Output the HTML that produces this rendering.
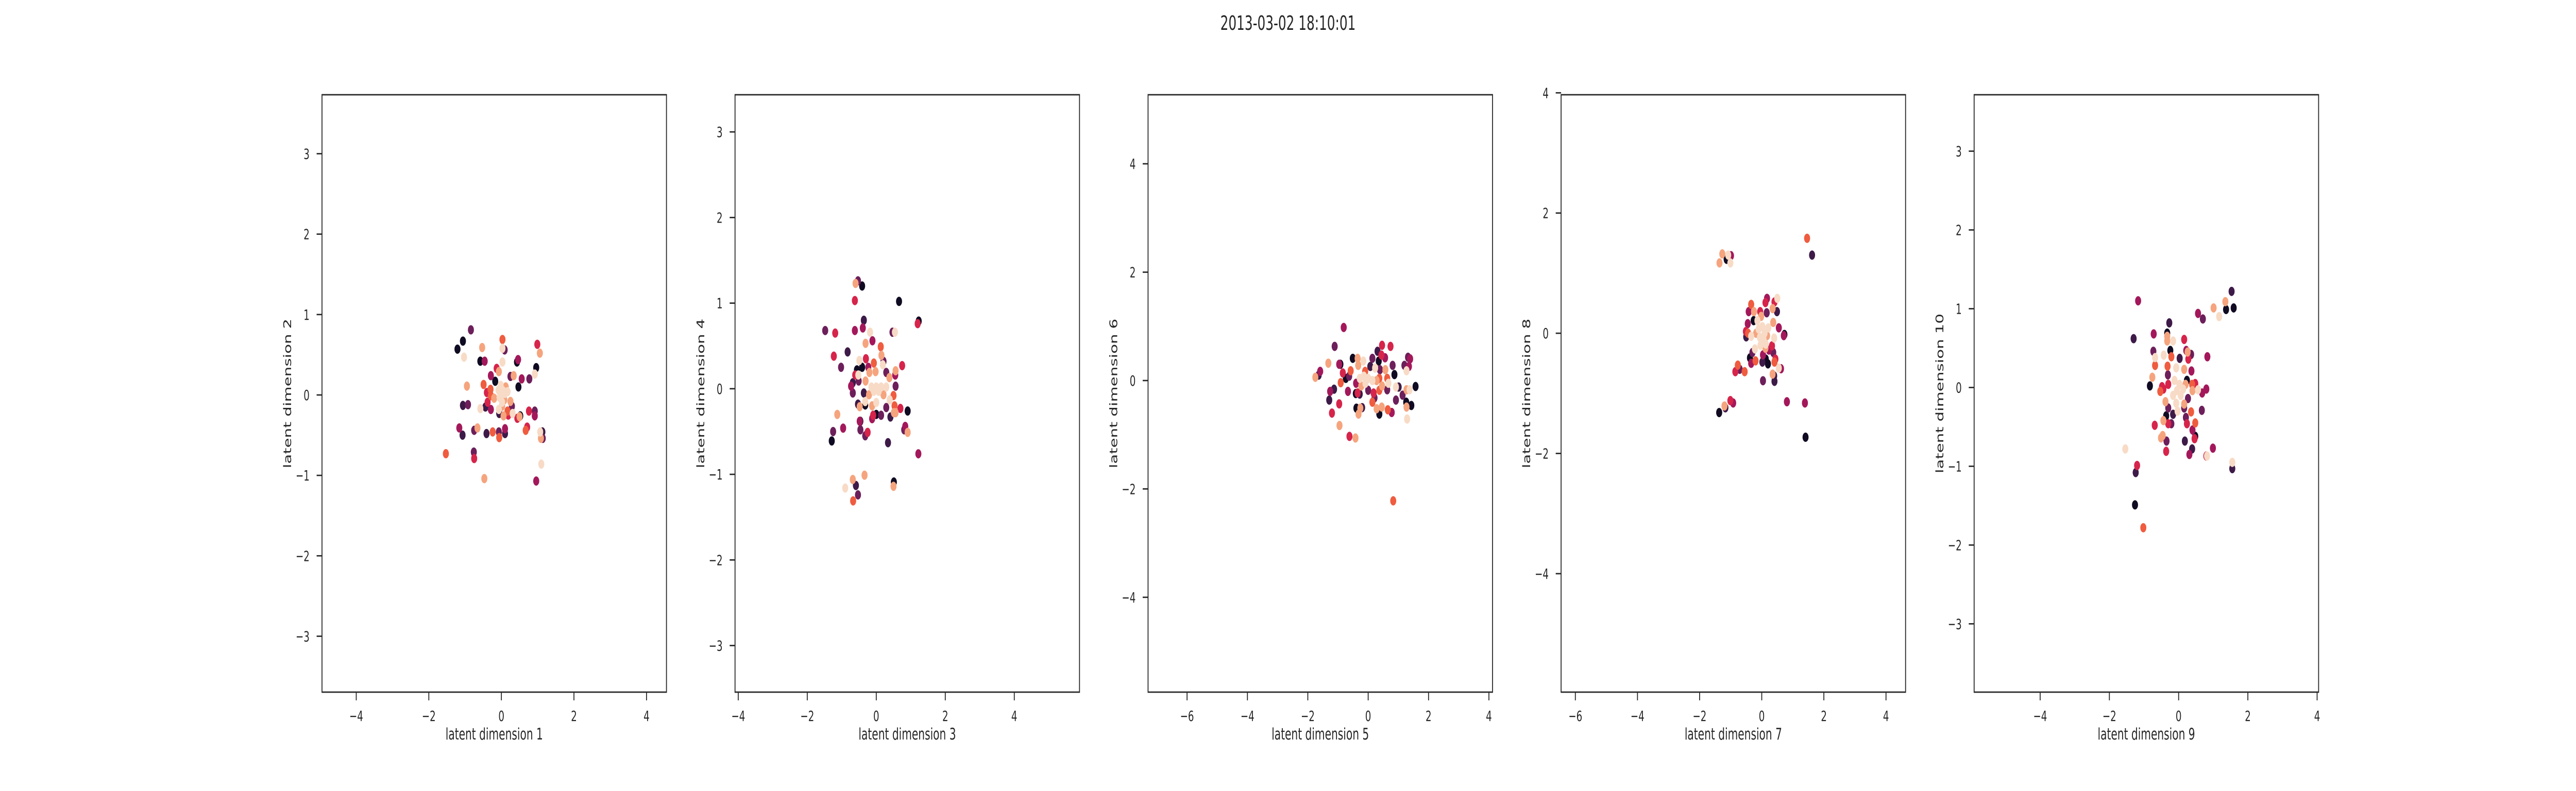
<!DOCTYPE html>
<html><head><meta charset="utf-8">
<style>
html,body{margin:0;padding:0;background:#fff;width:100%;height:100%;overflow:hidden;}
svg{display:block;width:100vw;height:100vh;font-family:"DejaVu Sans","Liberation Sans",sans-serif;}
</style></head>
<body>
<svg id="fig" viewBox="0 0 7680 1536" preserveAspectRatio="none" xmlns="http://www.w3.org/2000/svg">
<rect width="7680" height="1536" fill="#fff"/>
<text x="3840" y="58" text-anchor="middle" font-size="38" fill="#262626">2013-03-02 18:10:01</text>
</svg>
<script>
// Rocket-like palette levels
const palette = ['#100b22','#3d1a48','#6c1f5a','#a3185b','#d6244b','#ef5c3f','#f5a47e','#f8dbc6'];

// Panel 1: latent dim 1 vs 2
const p1x = [-0.84,-1.06,-1.21,-1.03,-0.53,-0.58,-0.46,0.03,0.09,0.03,0.03,0.46,0.43,0.99,1.06,0.96,0.92,0.77,0.56,0.47,0.34,0.25,-0.29,-0.13,-0.07,-0.17,-0.49,-0.95,-0.30,-0.40,-0.29,-0.20,0.00,0.10,0.17,0.02,0.25,0.29,-0.38,-0.29,-0.44,-0.58,-1.06,-0.92,-0.07,-0.06,0.06,0.17,0.19,0.31,0.52,0.50,0.44,0.76,0.92,0.92,0.71,0.67,0.10,0.10,-0.07,-0.06,-0.24,-0.41,-0.66,-0.75,-1.16,-1.07,1.13,1.07,1.14,1.09,1.10,-1.53,-0.76,-0.75,-0.47,0.96,0,0.05,-0.05,0.08,-0.08,0.12,-0.02,0.02];
const p1y = [0.81,0.67,0.57,0.47,0.59,0.42,0.42,0.69,0.56,0.58,0.41,0.44,0.41,0.63,0.52,0.34,0.26,0.20,0.20,0.10,0.24,0.23,0.24,0.33,0.29,0.17,0.13,0.11,0.07,0.03,-0.01,-0.04,0.07,0.02,0.04,-0.09,-0.08,-0.14,-0.09,-0.18,-0.15,-0.17,-0.13,-0.12,-0.18,-0.23,-0.26,-0.20,-0.25,-0.23,-0.26,-0.27,-0.29,-0.20,-0.20,-0.26,-0.40,-0.44,-0.42,-0.48,-0.46,-0.53,-0.46,-0.48,-0.41,-0.44,-0.41,-0.50,-0.46,-0.46,-0.54,-0.54,-0.86,-0.73,-0.71,-0.79,-1.04,-1.07,0,0.05,-0.03,-0.06,0.06,0.1,0.12,-0.14];
const p1c = [2,0,0,7,6,0,3,5,2,7,7,3,0,4,6,0,7,2,3,0,6,2,3,4,6,0,5,6,5,4,5,6,7,7,7,7,6,2,4,3,1,7,1,2,7,1,6,5,4,7,0,6,4,4,2,3,4,5,3,1,2,5,5,1,6,2,3,1,1,7,2,6,7,5,2,4,6,3,7,7,7,6,7,6,7,6];

// Panel 2: latent dim 3 vs 4
const p2x = [-0.53,-0.60,-0.41,0.66,-0.62,-0.36,1.23,1.20,-1.48,-1.19,-0.62,-0.39,-0.18,0.47,0.54,-0.11,-0.31,0.13,0.15,-1.23,-0.83,-0.49,-0.30,-0.07,0.21,0.19,0.75,-1.02,-0.56,-0.41,-0.23,-0.20,-0.02,0.29,0.56,0.55,0.38,-0.52,-0.61,-0.68,-0.73,-0.68,-0.51,-0.31,0.56,-0.36,-0.14,0,0.14,-0.07,0.07,0.29,-0.21,0.21,-0.32,-0.53,-0.48,-0.32,-0.12,0,0,-0.09,-0.12,0.14,0.29,0.39,0.50,0.53,0.41,0.51,0.56,0.70,0.91,-0.46,-0.48,-0.46,-0.32,-0.25,-1.13,-0.96,-1.25,-1.29,0.34,0.81,0.84,0.91,1.22,-0.34,-0.68,-0.90,-0.59,-0.53,-0.67,0.51,0.50];
const p2y = [1.26,1.23,1.20,1.02,1.03,0.80,0.79,0.76,0.68,0.65,0.68,0.71,0.66,0.66,0.66,0.56,0.53,0.49,0.39,0.38,0.43,0.33,0.35,0.30,0.32,0.28,0.27,0.25,0.22,0.25,0.25,0.19,0.20,0.19,0.21,0.16,0.13,0.16,0.16,0.07,0.03,-0.05,0.09,0.09,0.03,-0.05,0.02,0.02,0.02,-0.03,-0.03,0.02,-0.07,-0.07,-0.19,-0.18,-0.21,-0.15,-0.20,-0.16,-0.30,-0.31,-0.35,-0.31,-0.22,-0.13,-0.08,-0.20,-0.33,-0.28,-0.28,-0.23,-0.26,-0.38,-0.38,-0.48,-0.55,-0.51,-0.30,-0.46,-0.50,-0.61,-0.63,-0.48,-0.44,-0.51,-0.76,-1.01,-1.06,-1.16,-1.13,-1.24,-1.31,-1.09,-1.14];
const p2c = [2,6,0,0,4,1,0,4,2,4,3,3,7,2,7,3,6,5,6,4,1,7,4,5,2,7,4,2,0,0,3,6,6,2,6,3,6,7,4,1,3,2,2,6,2,1,7,7,7,7,7,7,6,6,0,1,6,7,6,7,0,4,3,2,2,7,5,5,1,6,6,4,0,1,3,2,2,4,6,3,2,0,1,2,3,6,3,6,6,7,1,2,5,0,6];

// Panel 3: latent dim 5 vs 6
const p3x = [-0.81,-1.11,0.46,0.74,0.31,-0.51,-0.35,-0.16,0.14,0.44,0.56,1.32,1.39,0.35,-1.32,-0.92,-0.96,-0.33,0.07,0.23,0.81,1.20,1.35,1.27,0.57,0.39,-1.59,-1.64,-0.84,-0.58,-0.74,-0.63,0.87,-1.75,-0.91,-0.40,-0.28,-0.14,0,0.14,-0.09,0.28,-0.23,-0.10,0.37,0.63,0.46,0.67,0.92,1.01,1.27,1.37,1.57,0.63,0.37,0.18,0,-0.28,-0.41,-0.35,-0.67,-1.13,-1.26,-1.29,0.21,0.92,1.14,1.26,1.43,1.27,0.14,-0.96,-0.20,-0.39,-0.26,0.28,0.45,0.65,0.78,0.37,-0.32,-1.20,1.29,-0.95,-0.62,-0.42,0.83];
const p3y = [0.98,0.63,0.65,0.63,0.54,0.41,0.41,0.36,0.41,0.47,0.42,0.43,0.40,0.36,0.32,0.30,0.30,0.28,0.26,0.23,0.28,0.28,0.26,0.18,0.20,0.20,0.17,0.10,0.14,0.18,0.04,0.08,0.11,0.06,-0.04,-0.05,0.04,0.08,0.04,0,-0.05,0,-0.10,0.17,0.04,0.04,-0.10,-0.05,-0.12,-0.12,-0.17,-0.17,-0.11,-0.17,-0.18,-0.23,-0.18,-0.25,-0.24,-0.23,-0.20,-0.16,-0.20,-0.36,-0.32,-0.36,-0.27,-0.40,-0.46,-0.49,-0.40,-0.43,-0.50,-0.51,-0.51,-0.52,-0.49,-0.54,-0.59,-0.62,-0.62,-0.60,-0.71,-0.83,-1.03,-1.06,-2.22];
const p3c = [3,2,4,4,1,0,6,7,2,4,3,2,3,0,6,0,3,6,1,7,2,2,3,7,6,2,3,1,4,5,0,2,0,6,5,3,7,7,7,7,7,6,6,5,5,5,6,7,7,1,6,7,0,2,5,4,2,1,0,4,3,1,3,1,2,2,2,0,0,6,5,4,1,0,6,6,6,5,3,0,6,4,7,6,4,6,5];

// Panel 4: latent dim 7 vs 8
const p4x = [1.46,1.62,-1.27,-0.99,-1.08,-1.13,-1.36,-1.01,0.17,0.50,0.41,0.12,-0.34,0.35,0.49,-0.42,-0.25,-0.05,0.16,-0.02,-0.26,-0.14,0.37,-0.45,0.55,0.21,-0.51,-0.44,-0.50,-0.34,0.73,0.71,0.40,-0.10,0.02,0.09,-0.06,0.06,0.17,-0.18,0.13,-0.04,-0.22,0.12,0.33,0.23,0.37,-0.30,0.04,-0.38,0.44,0.13,0.02,-0.20,-0.34,0.20,0.41,0.62,0.55,-0.77,-0.71,-0.85,-0.55,0.35,0.40,0.04,0.41,-1.01,-0.92,-1.20,-1.17,-1.37,0.81,1.39,1.41];
const p4y = [1.58,1.30,1.32,1.29,1.30,1.23,1.17,1.17,0.58,0.58,0.52,0.51,0.48,0.41,0.36,0.36,0.36,0.36,0.34,0.28,0.21,0.21,0.18,0.16,0.09,0.09,0.03,0,-0.06,-0.05,-0.02,-0.04,-0.08,0.07,0.11,0,-0.07,-0.11,-0.04,0,-0.18,-0.20,-0.26,-0.25,-0.21,-0.28,-0.32,-0.32,-0.36,-0.41,-0.43,-0.43,-0.48,-0.46,-0.50,-0.51,-0.48,-0.59,-0.58,-0.53,-0.60,-0.64,-0.64,-0.68,-0.71,-0.79,-0.80,-1.12,-1.16,-1.21,-1.24,-1.32,-1.14,-1.16,-1.73];
const p4c = [5,1,6,3,7,0,6,7,3,7,4,4,5,6,1,3,6,4,2,6,0,7,6,3,3,7,4,5,1,7,0,3,7,7,7,7,7,7,6,6,7,7,7,6,4,3,2,2,3,0,4,0,1,5,3,0,5,3,7,5,2,4,5,6,1,2,1,4,3,6,1,0,3,3,0];

// Panel 5: latent dim 9 vs 10
const p5x = [1.53,1.59,1.37,1.35,1.01,1.17,-1.17,0.56,0.70,-0.27,-1.30,-0.72,-0.33,-0.33,-0.33,-0.16,0.16,-0.73,-0.24,0.22,0.36,0.26,-0.43,-0.68,-0.21,0.03,0.83,0.28,-0.68,-0.32,-0.07,0.16,-0.31,0.37,-0.76,-0.83,-0.48,-0.30,-0.53,-0.44,0.80,0.68,0.56,0.48,0.39,0.40,0.24,-0.12,0.02,0.13,-0.05,0.06,-0.16,0.20,-0.38,-0.07,0.16,0.27,-0.30,0.16,-0.03,0.36,0.67,-0.16,0.21,-0.36,-0.21,-0.44,-0.30,-0.69,0.24,0.48,0.40,0.48,0.46,-0.51,-0.46,0.18,-0.35,0.39,0.99,-0.36,0.31,0.80,0.82,-1.54,1.55,1.55,-1.20,-1.24,-1.26,-1.02];
const p5y = [1.22,1.01,0.99,1.09,1.01,0.90,1.10,0.94,0.87,0.82,0.62,0.68,0.69,0.65,0.59,0.59,0.61,0.46,0.47,0.47,0.42,0.45,0.41,0.38,0.39,0.37,0.39,0.36,0.28,0.27,0.25,0.23,0.16,0.21,0.13,0.02,0.01,0.04,-0.05,-0.02,-0.02,-0.07,-0.03,0.05,0.04,-0.04,0.09,0.09,0.04,-0.02,-0.04,-0.10,-0.10,0.04,-0.18,-0.20,-0.21,-0.14,-0.26,-0.26,-0.30,-0.31,-0.29,-0.34,-0.38,-0.36,-0.46,-0.42,-0.46,-0.48,-0.46,-0.45,-0.54,-0.62,-0.65,-0.64,-0.61,-0.68,-0.68,-0.78,-0.77,-0.81,-0.85,-0.87,-0.87,-0.78,-0.95,-1.03,-0.99,-1.08,-1.49,-1.78];
const p5c = [1,0,0,6,6,7,3,3,2,1,1,3,0,6,6,7,4,2,0,3,2,6,7,7,5,1,3,4,5,5,7,6,2,3,6,0,4,4,5,4,3,3,7,4,5,6,0,7,7,7,7,7,7,6,6,7,6,2,2,2,7,5,2,1,2,0,2,6,4,4,4,5,3,0,4,6,6,1,2,1,3,4,3,4,7,7,7,1,4,1,0,5];

// Axis limits and ticks
const xMins = [-4.944,-4.093,-7.292,-6.459,-5.907];
const xMaxs = [4.55,5.89,4.12,4.63,4.043];
const yMins = [-3.695,-3.544,-5.75,-5.971,-3.867];
const yMaxs = [3.733,3.434,5.274,3.968,3.716];
const xTicks = [[-4,-2,0,2,4],[-4,-2,0,2,4],[-6,-4,-2,0,2,4],[-6,-4,-2,0,2,4],[-4,-2,0,2,4]];
const yTicks = [[-3,-2,-1,0,1,2,3],[-3,-2,-1,0,1,2,3],[-4,-2,0,2,4],[-4,-2,0,2,4],[-3,-2,-1,0,1,2,3]];
const xLabels = ['latent dimension 1','latent dimension 3','latent dimension 5','latent dimension 7','latent dimension 9'];
const yLabels = ['latent dimension 2','latent dimension 4','latent dimension 6','latent dimension 8','latent dimension 10'];

const seriesX = [p1x,p2x,p3x,p4x,p5x];
const seriesY = [p1y,p2y,p3y,p4y,p5y];
const seriesC = [p1c,p2c,p3c,p4c,p5c];

const NS = 'http://www.w3.org/2000/svg';
const svg = document.getElementById('fig');
const AX_W = 1027, AX_H = 1160, AX_TOP = 184, AX_STEP = 1231.4, AX_LEFT0 = 960;
const INK = '#262626';

function mk(tag, attrs, parent) {
  const e = document.createElementNS(NS, tag);
  for (const k in attrs) e.setAttribute(k, attrs[k]);
  parent.appendChild(e);
  return e;
}
function fmt(v){ return v < 0 ? '\u2212' + Math.abs(v) : String(v); }

for (let p = 0; p < 5; p++) {
  const L = AX_LEFT0 + p * AX_STEP, T = AX_TOP;
  const sx = v => L + (v - xMins[p]) / (xMaxs[p] - xMins[p]) * AX_W;
  const sy = v => T + (yMaxs[p] - v) / (yMaxs[p] - yMins[p]) * AX_H;
  const g = mk('g', {}, svg);
  
  

  const xs = seriesX[p], ys = seriesY[p], cs = seriesC[p];
  const n = Math.min(xs.length, ys.length, cs.length);
  const idx = [];
  for (let i = 0; i < n; i++) idx.push(i);
  idx.sort((a, b) => cs[a] - cs[b]);
  const pts = mk('g', {}, g);
  
  
  for (const i of idx) {
    const c = mk('circle', {cx: sx(xs[i]), cy: sy(ys[i]), r: 9, fill: palette[cs[i]]}, pts);
    
    
  }

  const fr = mk('rect', {x: L, y: T, width: AX_W, height: AX_H, fill: 'none', stroke: INK, 'stroke-width': 2.7}, g);
  
  

  for (const t of xTicks[p]) {
    const x = sx(t);
    const tk = mk('line', {x1: x, x2: x, y1: T + AX_H, y2: T + AX_H + 16, stroke: INK, 'stroke-width': 2.7}, g);
    
    
    const tl = mk('text', {x: x, y: T + AX_H + 56, 'text-anchor': 'middle', 'font-size': 28, fill: INK}, g);
    tl.textContent = fmt(t);
    
    
  }
  for (const t of yTicks[p]) {
    const y = sy(t);
    const tk = mk('line', {x1: L - 16, x2: L, y1: y, y2: y, stroke: INK, 'stroke-width': 2.7}, g);
    
    
    const tl = mk('text', {x: L - 37, y: y + 10, 'text-anchor': 'end', 'font-size': 28, fill: INK}, g);
    tl.textContent = fmt(t);
    
    
  }
  const xl = mk('text', {x: L + AX_W / 2, y: T + AX_H + 92, 'text-anchor': 'middle', 'font-size': 31, fill: INK}, g);
  xl.textContent = xLabels[p];
  
  
  const yx = L - 92, yy = T + AX_H / 2;
  const yl = mk('text', {x: yx, y: yy, 'text-anchor': 'middle', 'font-size': 31, fill: INK, transform: 'rotate(-90 ' + yx + ' ' + yy + ')'}, g);
  yl.textContent = yLabels[p];
  
  
}
</script>
</body></html>
